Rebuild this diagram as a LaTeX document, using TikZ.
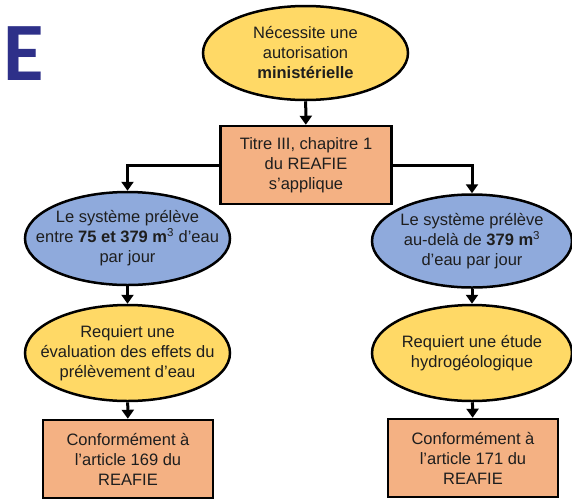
\documentclass[tikz,border=0pt]{standalone}
\usepackage{fontspec}
\setmainfont{Liberation Sans}
\newfontfamily\lettrefont{Carlito}
\usetikzlibrary{shapes.geometric,arrows.meta}
\definecolor{jaune}{HTML}{FFD966}
\definecolor{bleu}{HTML}{8FAADC}
\definecolor{saumon}{HTML}{F4B183}
\definecolor{marine}{HTML}{2E3089}
\definecolor{encre}{HTML}{1E1E1E}

\begin{document}
\begin{tikzpicture}[ x=1pt, y=-1pt, line width=2.5pt,
  font=\fontsize{16.5}{20}\selectfont, text=encre,
  oval/.style={ellipse, draw, align=center, inner xsep=-30pt, inner ysep=0pt,
    minimum width=205pt, minimum height=94pt},
  yes oval/.style={oval, fill=jaune},
  flow oval/.style={oval, fill=bleu},
  block/.style={rectangle, draw, fill=saumon, align=center,
    minimum width=171pt, minimum height=78pt},
  line/.style={draw, line width=3pt, -{Triangle[width=12pt,length=9pt]}},
  ]
  \useasboundingbox (0,0) rectangle (572,499);

  \node (letter) [anchor=base west, inner sep=0pt, text=marine]
    at (2,80) {\lettrefont\bfseries\fontsize{83}{83}\selectfont E};

  \node (needs permit) [yes oval] at (305.5,53) {Nécessite une\\autorisation\\\textbf{ministérielle}};
  \node (title three) [block] at (306,165) {Titre III, chapitre 1\\du REAFIE\\s’applique};

  \node (low intake) [flow oval, minimum height=93pt] at (127.5,238.5)
    {Le système prélève\\entre \textbf{75 et 379 m}\textsuperscript{3} d’eau\\par jour};
  \node (high intake) [flow oval, minimum width=200pt, minimum height=93pt] at (472,241)
    {Le système prélève\\au-delà de \textbf{379 m}\textsuperscript{3}\\d’eau par jour};

  \node (effects study) [yes oval, minimum height=96pt] at (127.5,353)
    {Requiert une\\évaluation des effets du\\prélèvement d’eau};
  \node (hydro study) [yes oval, minimum width=200pt, minimum height=96pt] at (472,353)
    {Requiert une étude\\hydrogéologique};

  \node (art 169) [block, minimum width=170pt] at (128,459) {Conformément à\\l’article 169 du\\REAFIE};
  \node (art 171) [block, minimum width=170pt] at (473,458) {Conformément à\\l’article 171 du\\REAFIE};

  % edges:
  \path[line] (needs permit) -- (title three);
  \path[line] (title three.west) -| (low intake.north);
  \path[line] (title three.east) -| (high intake.north);
  \path[line] (low intake) -- (effects study);
  \path[line] (high intake) -- (hydro study);
  \path[line] (effects study) -- (art 169);
  \path[line] (hydro study) -- (art 171);
\end{tikzpicture}
\end{document}
